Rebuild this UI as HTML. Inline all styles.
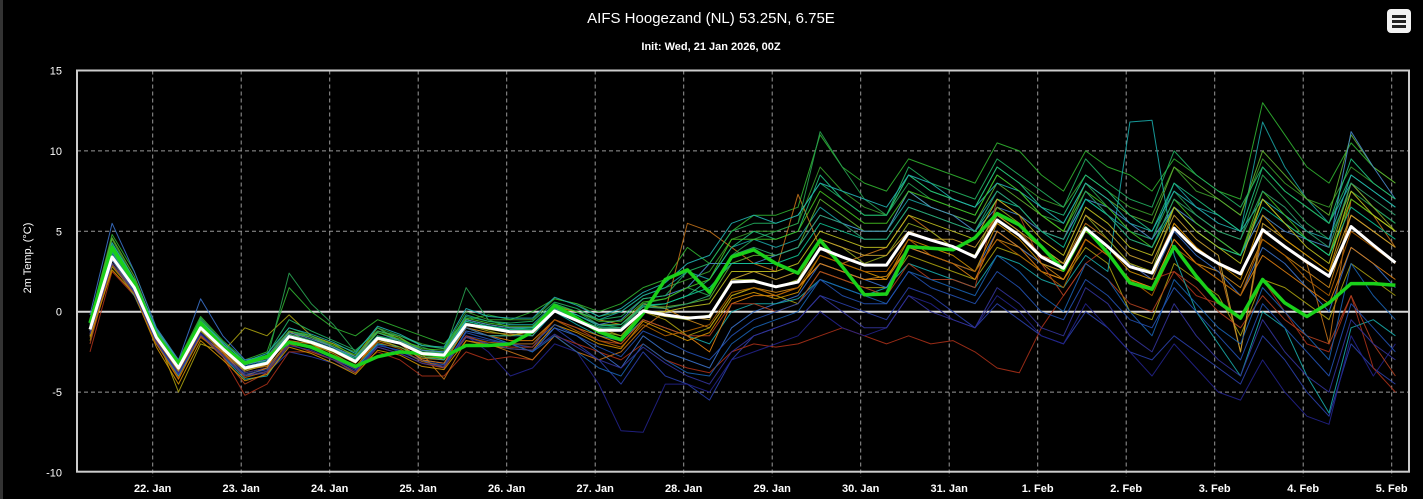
<!DOCTYPE html>
<html><head><meta charset="utf-8"><style>
html,body{margin:0;padding:0;background:#000;}
body{width:1423px;height:499px;overflow:hidden;position:relative;font-family:"Liberation Sans",sans-serif;}
#menu{position:absolute;left:1387px;top:9px;width:24px;height:24px;background:#f2f2f2;border-radius:4px;}
#menu i{position:absolute;left:5px;width:14px;height:2.5px;background:#222;}
</style></head><body>
<div id="menu"><i style="top:6px"></i><i style="top:11px"></i><i style="top:16px"></i></div>
<svg id="chart" width="1423" height="499" style="position:absolute;left:0;top:0">
<rect x="0" y="0" width="3" height="499" fill="#333"/>
<text x="711" y="23" fill="#fff" font-size="15" text-anchor="middle" font-family="Liberation Sans">AIFS Hoogezand (NL) 53.25N, 6.75E</text>
<text x="711" y="50" fill="#fff" font-size="11" font-weight="bold" text-anchor="middle" font-family="Liberation Sans">Init: Wed, 21 Jan 2026, 00Z</text>
<text transform="translate(31,258) rotate(-90)" fill="#fff" font-size="11" text-anchor="middle" font-family="Liberation Sans">2m Temp. (°C)</text>
<g id="grid"></g><g id="members"></g><g id="main"></g><g id="axes"></g>
</svg>
<script>
const yTicks=[15,10,5,0,-5,-10];
const dayLabels=["22. Jan","23. Jan","24. Jan","25. Jan","26. Jan","27. Jan","28. Jan","29. Jan","30. Jan","31. Jan","1. Feb","2. Feb","3. Feb","4. Feb","5. Feb"];
const meanSeries=[-1.1,3.4,1.5,-1.6,-3.5,-1.0,-2.3,-3.5,-3.2,-1.55,-1.9,-2.4,-3.1,-1.65,-1.95,-2.6,-2.7,-0.8,-1.0,-1.25,-1.25,0.05,-0.55,-1.15,-1.15,0.05,-0.2,-0.4,-0.3,1.85,1.9,1.55,1.85,3.95,3.4,2.9,2.9,4.9,4.45,4.05,3.4,5.7,4.75,3.4,2.7,5.2,4.05,2.8,2.4,5.2,3.85,3.0,2.35,5.1,4.05,3.1,2.2,5.3,4.15,3.05];
const controlSeries=[-0.7,4.0,1.8,-1.5,-3.2,-0.7,-2.2,-3.2,-2.8,-1.9,-2.2,-2.8,-3.4,-2.8,-2.5,-2.6,-2.8,-2.1,-2.1,-2.0,-1.25,0.4,-0.4,-1.25,-1.75,-0.1,2.0,2.6,1.2,3.4,3.85,3.0,2.4,4.45,2.8,1.05,1.1,4.05,3.95,3.85,4.6,6.1,5.4,4.05,2.6,5.2,3.65,1.8,1.4,4.05,2.2,0.6,-0.4,2.0,0.55,-0.3,0.55,1.75,1.75,1.65];
const m01=[-0.5,4.5,2,-1.2,-3,-0.5,-2,-3.2,-2.8,-1,-1.5,-2,-2.5,-1,-1.5,-2,-2.3,0,-0.5,-0.5,-0.5,0.8,0.5,-0.3,0,1,1.5,2,2.5,4.5,5,5,5.5,9,7.5,6.5,6,8.5,7.5,7,6.5,9,8,7,6.5,8.5,7.5,6.5,6,9,7.5,7,6,9.5,8,7,6.5,9,8,7];
const m02=[-1.5,3,1,-2,-4,-1.5,-2.8,-4,-3.8,-2.5,-2.8,-3.2,-3.8,-2,-2.5,-3,-3.2,-1.5,-1.8,-2,-2.2,-1,-2,-3,-4.5,-2.5,-4,-4.5,-5.5,-3,-1.5,-1,-0.5,1,0.5,0,-0.5,1.5,1,0,-1,0.5,-0.5,-1.5,-2,0,-1,-2.5,-3,-1.5,-2.5,-3.5,-4.5,-1.5,-3,-5,-6.5,-2,-3.5,-4.5];
const m03=[-1.2,3.2,1.2,-1.8,-3.8,-1.2,-2.5,-3.8,-3.5,-1.8,-2,-2.6,-3.4,-1.8,-2.2,-2.9,-3,-1,-1.3,-1.4,-1.5,0.3,0,-0.5,-0.8,0.5,0.2,-0.5,-1,1,1.5,1.2,1.5,3,2.5,2,2.2,4,3.5,3,2.5,4.5,4,3,2,4.5,3.5,2,1.5,4.5,3,2.5,1.5,4.5,3.5,2.5,1.5,6,5,4];
const m04=[-0.8,4,1.8,-1.3,-3.2,-0.8,-2.2,-3.3,-3,-1.2,-1.6,-2.2,-2.9,-1.3,-1.8,-2.4,-2.5,-0.2,-0.6,-0.8,-0.8,0.5,0,-0.5,0,1,1.5,2.5,2,4,4.5,4,4.5,6.5,5.5,5,5,7,6.5,6,5.5,7.5,6.5,5,4.5,7,6,5,4.5,8,6.5,6,5,11.8,9,7,5.5,8,6.5,5.5];
const m05=[-2.5,2.5,1,-2,-4,-1.5,-2.8,-5.2,-4.5,-2.5,-2.5,-3,-3.5,-2.5,-3,-4,-4,-2.5,-3,-2.8,-3,-1.5,-2,-2.5,-3,-2,-3,-3.5,-3.8,-2.5,-2,-2.2,-2,-1.5,-1,-1.5,-2,-1.5,-2,-1.8,-2.5,-3.5,-3.8,-1,1,3,4,3,2,2.5,1,0.5,-0.5,2,0,-2,-2.5,1,-3.5,-5];
const m06=[-0.5,4.8,2.5,-1,-3,-0.3,-1.8,-3,-2.5,1.5,0,-1,-1.5,-0.5,-1,-1.5,-2,-0.5,-0.2,-0.5,0,0.8,0.5,0,0.5,1.5,2,4,3,5,6,6,6.5,11,9,8,7.5,9.5,9,8.5,8,10.5,10,8.5,7.5,10,9,8.5,7.5,9.5,8.5,7.5,7,13,11,9,8,10.5,9,8];
const m07=[-1.8,2.8,1.2,-1.5,-5,-2,-2.5,-1,-1.5,-0.2,-1.5,-2,-2.8,-1,-1.8,-2.5,-3,-1,-1.5,-1.5,-1.2,0,-0.5,-1,-1.5,0,-0.5,-1.5,-1,1,1.5,1,0.5,2.5,2,1.5,1.5,3.5,3,2.5,2,4,3.5,2.5,2,4,3,0,-0.5,3,2,1,-1.5,2,1.5,0.5,-0.5,3,2,1];
const m08=[-0.2,5.5,2.5,-1,-3,0.8,-1.5,-3,-2.8,-1.2,-1.5,-2.2,-3,-1.5,-2,-3,-3.5,-1.2,-1.5,-2,-2.5,-1,-1.5,-2.5,-3.5,-1.5,-2.5,-3,-3.5,-1,0,0.5,1,3,2.5,2,1.5,4,3.5,3,2.5,5,4,3,2.5,5,4,3,2,5,3.5,2.5,1,4,3,1.5,0,4,3,1.5];
const m09=[-1.3,3,1.2,-1.8,-3.8,-1.3,-2.6,-3.8,-3.5,-2,-2.2,-2.8,-3.5,-2,-2.5,-3,-3.2,-1.5,-2.5,-4,-3.5,-2,-2.5,-4.5,-7.4,-7.5,-4.5,-4.5,-5,-3,-2.5,-2,-1.5,0,-1,-1.5,-1,1,0.5,-0.5,-1,1,0,-1.5,-2,0.5,-1,-2.5,-4,-2,-3.5,-5,-5.5,-3,-5,-6.5,-7,-1.5,-4,-2];
const m10=[-1,3.5,1.4,-1.4,-3.4,-1,-2.2,-3.6,-3.4,-1.4,-1.8,-2.4,-3,-1.2,-1.6,-2.6,-4.2,-1.8,-2,-2.5,-3,-1.5,-2.5,-3,-2.5,-1,0,5.5,5,4,3,2.5,7.3,4,3,3.5,4,6,5,4,3.5,6,5,3.5,3,5.5,4.5,3,2.5,5.5,4,3,-2.5,5,4,3,-2,7,6,4];
const m11=[-1,4.2,2,-1.5,-3.5,-0.5,-2,-3.5,-3,2.4,0.5,-0.8,-2.5,-1,-1.8,-2.2,-2.6,1.5,-0.5,-1,-1,0.5,0,-0.8,-1,0.5,0.8,1.5,1,3.5,4.5,5,5.5,11.2,9,7,6,8,7,6.5,6,8.5,7.5,6,5.5,8,6.5,5,4.5,7.5,6,5,4.5,8.5,7,5.5,4.5,7.5,6.5,5.5];
const m12=[-1.5,3,1,-2,-4,-1.5,-2.8,-4.2,-4,-2,-2.2,-2.8,-3.5,-2,-2.2,-2.8,-3,-1,-1.5,-1.5,-1.5,0,-0.8,-1.5,-1.8,-0.5,-1,-1.5,-2,0,0.5,0.5,0.8,2,1.5,1,1.5,3,2.5,2,1.5,3.5,3,2,1.5,3.5,2.5,11.8,11.9,3.5,0,-2,-4,0,-1,-4,-6.3,-1,-0.5,-1.5];
const m13=[-0.6,4.6,2.2,-1.2,-3.2,-0.6,-2,-3.3,-2.9,-1.3,-1.6,-2.2,-2.8,-1.2,-1.6,-2.4,-2.6,-0.5,-0.8,-1,-1,0.3,-0.2,-0.8,-0.8,0.3,0.3,0.5,0.8,3,3.5,3.5,4,7,6,5,5,7.5,6.5,6,5.5,8,7,6,5,8,7,6,5.5,9,8,7,6,10,8.5,7,6,11,9,8];
const m14=[-1.5,3,1.2,-2,-4.2,-1.5,-2.5,-4,-3.5,-1.2,-2,-2.8,-3.5,-1.5,-2,-3,-3.2,-1,-1.5,-1.8,-1.8,-0.5,-1,-1.5,-2,-0.5,-1,-1.5,-2.5,0.5,1,1,1.5,3,2.5,2,2,4,3.5,3,2,5,4,2.5,2,4.5,3.5,2,1.5,4.5,3,2,1,3.5,2.5,1.5,0.5,4,3,2];
const m15=[-0.8,4,1.8,-1.3,-3.3,-0.8,-2,-3.3,-3,-1.3,-1.7,-2.2,-2.8,-1.3,-1.8,-2.4,-2.5,-0.5,-0.8,-1,-1,0.2,-0.2,-0.8,-0.5,0.8,1,1.5,3,3,3,3.5,4,6,5.5,5,5,7.5,6.5,6,5,6.5,6,5,4.5,7,6.5,5.5,4.5,6.5,5.5,4.5,3.5,6,5,4.5,4,11.2,9,7];
const m16=[-1.2,3.5,1.5,-1.7,-3.6,-1.2,-2.4,-3.6,-3.3,-1.6,-2,-2.5,-3.2,-1.7,-2.2,-2.8,-2.9,-0.8,-1.2,-1.5,-1.2,0,-0.6,-1.2,-1.5,0,-0.3,-0.5,-0.2,2,2,1.5,2,4.5,4,3,3.5,5.5,5,4,3.5,6.5,5.5,4,3,6,4.5,3,2.5,6.5,5,4,3.5,7,5.5,4.5,3.5,8,6.5,5];
const m17=[-2,3,1.2,-1.8,-3.6,-1.5,-2.8,-4.5,-3.8,-2,-2.5,-3,-3.8,-2.2,-2.6,-3.2,-3.5,-1.5,-2,-2.2,-2.2,-0.5,-1,-1.8,-2,-0.5,-1,-1.5,-1.5,0.5,0.5,0,0.5,2.5,2,1.5,1,3,2,2,1.5,7,6,3,1,3,2,0.5,0,2.5,1.5,0,-1,1,-0.5,-1.5,-2,1,-2,-4];
const m18=[-0.9,3.8,1.7,-1.4,-3.4,-0.9,-2.2,-3.4,-3.1,-1.4,-1.8,-2.3,-2.9,-1.5,-1.9,-2.5,-2.6,-0.6,-0.9,-1.1,-1.1,0.2,-0.4,-1,-1,0.3,0.5,1,2,4,5,4.5,5,8.5,7,6,6,8.5,7.5,7,6.5,9,8,6.5,6,8.5,7.5,6,5,8,7,6,5,9,7.5,6.5,5.5,9.5,8,7];
const m19=[-1.1,3.3,1.4,-1.7,-3.7,-1.1,-2.4,-3.7,-3.3,-1.5,-1.9,-2.5,-3.2,-1.6,-2,-2.7,-2.8,-0.7,-1,-1.3,-1.3,0.1,-0.5,-1.2,-1.2,0,-0.3,-0.3,-0.5,2,2.5,2,2.5,4.5,4,3.5,3.5,5,4.5,4.5,4,6,5,4,3,6,5,3.5,3,6,4.5,3.5,-2.5,5.5,4.5,3.5,2.5,6,5,4];
const m20=[-1,3.6,1.6,-1.5,-3.4,-0.9,-2.3,-3.4,-3.1,-1.6,-1.8,-2.3,-3,-1.6,-1.9,-2.6,-2.7,-1,-1.5,-2,-2.5,-1.5,-2.5,-3.5,-4,-2,-3,-3.8,-4,-2,-1,-0.5,0,2,1.5,1,0.5,2.5,2,1.5,1,3.5,2.5,1,0,3,2,0,-1.5,2,0.5,-1,-2,1.5,0,-1.5,-3,3,1,-0.5];
const m21=[-0.9,3.9,1.9,-1.2,-3.3,-0.4,-1.9,-3.1,-2.7,-0.5,-1.2,-1.8,-2.4,-1.2,-1.5,-2.1,-2.3,-0.3,-0.6,-0.7,-0.6,0.6,0.2,-0.5,-0.3,0.8,1,2.5,3,5,5.5,5.5,6,8,7,6,6,9,8,7.5,7,9.5,8.5,7.5,6.5,9.5,8,7,6.5,10,8.5,7.5,6.5,9,7.5,6.5,5.5,8.5,7.5,6.5];
const m22=[-1.6,2.6,1.1,-2.2,-4.5,-1.8,-3,-4.3,-3.9,-2.2,-2.6,-3.2,-3.9,-2.4,-2.7,-3.4,-3.6,-1.8,-2.1,-2.3,-2.4,-0.8,-1.3,-2,-2.3,-0.6,-1.2,-1.8,-1.3,0.8,1.2,0.8,1.2,3.5,3,2.5,2,4.5,4,3.5,2.5,5.5,4.5,3,2.5,5,4,2.5,2,5.5,4,3,2,6,4.5,3.5,2.5,7,6,5];
const m23=[-0.7,4.3,2,-1.1,-3.1,-0.6,-1.9,-3.1,-2.6,-1,-1.4,-1.9,-2.6,-0.9,-1.4,-2.1,-2.2,0.2,-0.3,-0.4,-0.4,0.9,0.4,-0.3,0.2,1.2,1.8,3,3.5,5.5,6,5.5,6,8,7.5,7,6.5,8.5,8,7,6.5,8,7.5,6.5,5.5,8,7,5.5,5,7.5,6.5,5.5,5,7,6,5,4.5,8.5,7.5,6.5];
const m24=[-1.2,3.2,1.3,-1.9,-3.9,-1.4,-2.7,-3.9,-3.6,-1.9,-2.3,-2.9,-3.6,-2.1,-2.4,-3.1,-3.3,-1.3,-1.7,-2,-2,-0.8,-1.5,-2.2,-2.8,-1.2,-1.8,-2.5,-3,-1.5,-0.5,0,0.5,2,1,0.5,0.5,2.5,1.5,1,0.5,2.5,1.5,0,-0.5,2,1,-0.5,-1,1.5,0,-1.5,-3,0.5,-1,-2.5,-4,0.5,-1,-2.5];
const m25=[-0.8,4.1,1.9,-1.3,-3.3,-0.7,-2.1,-3.2,-2.9,-1.2,-1.5,-2.1,-2.7,-1.3,-1.7,-2.3,-2.4,-0.4,-0.7,-0.9,-0.9,0.4,0,-0.6,-0.6,0.6,0.8,1.5,2,4.5,4.5,4.5,5,7.5,6.5,5.5,5.5,7.5,7,6.5,6,8.5,7.5,6,5,7.5,6.5,5,4,7,5.5,4.5,3.5,7.5,6,4.5,3.5,7,6,5];
const m26=[-1.4,2.9,1.1,-2,-4.1,-1.6,-2.6,-4.1,-3.7,-1.8,-2.2,-2.7,-3.4,-1.9,-2.3,-3.1,-3.4,-1.6,-1.9,-2,-2,-0.5,-1.2,-1.8,-2.2,-0.8,-1.5,-1.2,-0.8,1.2,1.5,1,1.5,3.5,3,2.5,2.5,4.5,3.5,3,2.5,4.5,3.5,2.5,1.5,4.5,3.5,2,1,4,3,2,1,4.5,3.5,2,1,5,4,3];
const m27=[-1,3.7,1.6,-1.5,-3.5,-1,-2.3,-3.5,-3.1,-1.5,-1.9,-2.4,-3,-1.5,-1.9,-2.5,-2.6,-0.6,-0.9,-1.1,-1,0.3,-0.2,-0.9,-0.8,0.4,0.5,1,1.5,3,3,3,3.5,5.5,5,4.5,4.5,6.5,6,5.5,5,7,6.5,5,4,7,6,4.5,4,6.5,5,4,3.5,6.5,5.5,4.5,3.5,6.5,5.5,4.5];
const m28=[-1.4,3,1.2,-1.9,-3.9,-1.4,-2.7,-4,-3.7,-2.1,-2.4,-3,-3.7,-2.2,-2.6,-3.2,-3.4,-1.6,-2,-2.3,-2.4,-1.4,-2.2,-3,-3.5,-2.2,-3.2,-4,-4.5,-2.5,-1.5,-1,-0.5,1,0,-1,-1,1,0,-0.5,-1,1.5,0.5,-1,-1.5,1.5,0.5,-1.5,-2.5,0.5,-1.5,-3,-4,-0.5,-2.5,-4,-5,-0.5,-2,-3];
const m29=[-1.1,3.4,1.5,-1.6,-3.6,-1.1,-2.3,-3.6,-3.2,-1.6,-1.9,-2.4,-3.1,-1.6,-1.9,-2.6,-2.7,-0.8,-1.1,-1.3,-1.3,0,-0.6,-1.2,-1.2,0,0,0.3,0.5,2.5,2.5,2.5,3,5,4.5,4,4,6,5.5,5,4.5,7,6,4.5,3.5,6.5,5.5,4,3.5,6.5,5,4,3,7,5.5,4,3,7.5,6,5];
const m30=[-0.9,3.7,1.6,-1.5,-3.5,-0.9,-2.2,-3.5,-3.2,-1.5,-1.8,-2.3,-3,-1.5,-1.8,-2.5,-2.6,-0.7,-1,-1.2,-1.2,0.2,-0.5,-1.1,-1,0.3,0.2,0.5,1,3.5,4,3.5,4,6,5.5,4.5,4.5,6.5,6,5.5,5,7.5,6.5,5,4.5,7.5,6,4.5,4,7,6,5,4.5,7.5,6.5,5,4,8,7,6];
const members=[m01,m02,m03,m04,m05,m06,m07,m08,m09,m10,m11,m12,m13,m14,m15,m16,m17,m18,m19,m20,m21,m22,m23,m24,m25,m26,m27,m28,m29,m30];
const memberColors=["#3a9a2a","#2a3fa8","#d08a1a","#1aa0a0","#a83018","#30b030","#a8a010","#3a70c8","#22228a","#c07018","#28a050","#18a8a8","#60b030","#e08010","#4888c8","#90a820","#b04020","#20c080","#c8a030","#1860b0","#22b060","#d09000","#22b0b0","#2250b0","#44c020","#b06000","#10c090","#333399","#c0c020","#30a070"];

const NS="http://www.w3.org/2000/svg";
const L=77,R=1409,T=70.5,B=471.7;
function yS(v){return 311.7-(v)*16.08;}
function xS(i){const h=6+6*i;return 152.7+(h+1-24)*(88.5/24);}
function dayX(d){return 152.7+d*88.5;}
function mk(tag,attrs,parent){const e=document.createElementNS(NS,tag);for(const k in attrs)e.setAttribute(k,attrs[k]);parent.appendChild(e);return e;}
const grid=document.getElementById('grid'),axes=document.getElementById('axes');
yTicks.forEach(v=>{
  if(v!==15&&v!==-10&&v!==0){const ln=mk('line',{x1:L,x2:R,y1:yS(v),y2:yS(v),stroke:'#999','stroke-width':1,'stroke-dasharray':'4,3'},grid);
  
  }
  const t=mk('text',{x:62,y:yS(v)+4,fill:'#fff','font-size':11,'text-anchor':'end','font-family':'Liberation Sans'},axes);
  t.textContent=v;
  
  
});
dayLabels.forEach((lab,d)=>{
  const x=dayX(d);
  const ln=mk('line',{x1:x,x2:x,y1:T,y2:B+5,stroke:'#999','stroke-width':1,'stroke-dasharray':'4,3'},grid);
  
  
  const t=mk('text',{x:x,y:492,fill:'#fff','font-size':11,'font-weight':'bold','text-anchor':'middle','font-family':'Liberation Sans'},axes);
  t.textContent=lab;
  
  
});
const zl=mk('line',{x1:L,x2:R,y1:yS(0),y2:yS(0),stroke:'#d8d8d8','stroke-width':2},grid);


const frame=mk('rect',{x:L,y:T,width:R-L,height:B-T,fill:'none',stroke:'#ccc','stroke-width':2},axes);


function pts(arr){return arr.map((v,i)=>xS(i).toFixed(1)+','+yS(v).toFixed(1)).join(' ');}
const mg=document.getElementById('members');
members.forEach((s,k)=>{
  const p=mk('polyline',{points:pts(s),fill:'none',stroke:memberColors[k],'stroke-width':1,'stroke-opacity':0.9,'stroke-linejoin':'round'},mg);
  
  
});
const main=document.getElementById('main');
const cl=mk('polyline',{points:pts(controlSeries),fill:'none',stroke:'#1ad01a','stroke-width':3.5,'stroke-linejoin':'round'},main);


const ml=mk('polyline',{points:pts(meanSeries),fill:'none',stroke:'#fff','stroke-width':3,'stroke-linejoin':'round'},main);


</script>
</body></html>
